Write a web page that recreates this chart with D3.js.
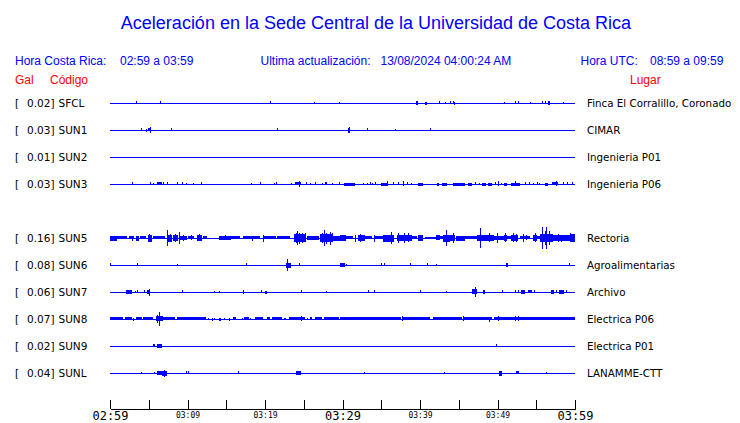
<!DOCTYPE html>
<html><head><meta charset="utf-8">
<script src="https://cdn.jsdelivr.net/npm/d3@7"></script>
<style>
html,body{margin:0;padding:0;background:#fff;}
svg{display:block;}
</style></head>
<body><svg id="chart" width="740" height="423"></svg>
<script>
// ---------------- DATA ----------------
const title = "Aceleración en la Sede Central de la Universidad de Costa Rica";
const localTime = "02:59 a 03:59";
const utcTime = "08:59 a 09:59";
const lastUpdate = "13/08/2024 04:00:24 AM";
const startTime = new Date(2024, 7, 13, 2, 59);
const durationMin = 60;
const tickMinutes = [0,5,10,15,20,25,30,35,40,45,50,55,60];
const labelMinutes = [0,10,20,30,40,50,60];
const majorLabelMinutes = [0,30,60];

const codes  = ["SFCL","SUN1","SUN2","SUN3","SUN4","SUN5","SUN6","SUN7","SUN8","SUN9","SUNL"];
const peaks  = [0.02, 0.03, 0.01, 0.03, null, 0.16, 0.08, 0.06, 0.07, 0.02, 0.04];
const places = ["Finca El Corralillo, Coronado","CIMAR","Ingenieria P01","Ingenieria P06",null,
                "Rectoria","Agroalimentarias","Archivo","Electrica P06","Electrica P01","LANAMME-CTT"];

// events: [startMinute, endMinute, relative amplitude]
const sfclEvents = [[3.4,3.4,12],[6.5,6.5,12],[20.7,20.7,12],[26.3,26.3,8],[29.6,29.6,8],[39.5,39.8,14],
  [40.6,40.6,10],[40.8,40.8,10],[42.4,42.4,12],[43.2,43.3,8],[43.9,43.9,12],[44.2,44.2,12],[44.4,44.4,10],
  [50.8,50.8,8],[52.3,52.3,12],[52.6,52.6,12],[54.2,54.2,8],[55.7,55.7,12],[56.1,56.1,12],[56.5,56.8,14],[58.4,58.4,8]];
const sun1Events = [[4.0,4.0,12],[4.7,4.7,10],[4.86,5.29,12],[5.16,5.16,22],[7.9,7.9,12],[21.6,21.6,12],
  [30.75,31.05,18],[30.9,30.9,22],[33.2,33.2,12],[36.8,36.8,8],[41.3,41.3,12]];
const sun2Events = [];
const sun3Events = [[2.8,2.8,12],[5.1,5.1,12],[5.6,5.6,8],[6.1,6.7,12],[6.9,6.9,12],[7.35,7.5,12],[8.6,8.6,12],
  [9.25,9.25,12],[9.85,9.85,8],[10.75,10.75,8],[11.8,11.8,12],[18.2,18.2,8],[19.4,19.4,12],[21.2,21.2,8],
  [21.4,21.4,12],[23.4,23.4,8],[23.9,24.7,13],[24.4,24.4,22],[25.3,25.3,12],[25.8,25.8,8],[26.5,26.5,12],
  [27.3,27.3,8],[27.8,28.0,12],[28.7,28.7,8],[29.5,29.5,12],[30.15,31.6,11],[32.6,32.6,8],[33.2,33.2,8],
  [33.6,33.6,12],[33.8,33.8,8],[34.2,34.2,12],[35.0,35.9,11],[35.8,35.8,20],[36.5,36.5,12],[37.1,37.1,12],
  [37.8,37.8,20],[38.3,38.3,12],[38.9,38.9,8],[39.7,40.3,11],[42.2,42.5,11],[42.9,43.6,11],[44.3,45.8,11],
  [46.2,46.7,11],[47.1,47.1,12],[47.6,47.6,8],[48.0,48.5,11],[48.8,49.3,11],[49.7,49.7,12],[50.0,50.0,20],
  [50.5,50.5,8],[50.9,51.3,11],[51.8,52.9,11],[52.2,52.2,20],[53.5,53.5,12],[54.0,54.0,12],[54.6,54.6,8],
  [55.1,55.1,12],[55.4,55.4,8],[56.1,56.5,11],[57.0,57.8,13],[57.5,57.5,20],[58.4,58.4,12],[59.0,59.0,12],[59.6,59.6,12]];
const sun4Events = null;
const sun5Events = [[0,0.86,18],[0.86,2.15,13],[2.4,3.0,13],[2.8,2.8,18],[3.4,3.8,18],[3.9,4.7,13],[4.9,5.4,26],
  [5.0,5.0,32],[5.6,7.1,13],[7.3,7.3,60],[7.5,8.0,26],[7.7,7.7,32],[8.1,8.8,22],[8.4,8.4,30],[8.9,8.9,45],
  [9.0,9.9,15],[9.4,9.4,22],[10.0,10.75,13],[10.5,10.5,20],[11.2,11.8,22],[11.5,11.5,28],[12.0,12.5,13],
  [14.0,15.5,15],[14.9,14.9,20],[15.5,16.8,13],[17.2,19.4,13],[18.3,18.3,18],[19.7,19.7,25],[19.8,21.5,13],
  [21.5,23.2,13],[23.8,25.4,30],[24.1,24.1,55],[23.95,23.95,40],[24.4,24.4,42],[24.8,24.8,38],[25.1,25.1,35],
  [25.4,26.9,15],[27.1,28.8,30],[27.6,27.6,60],[27.3,27.3,40],[27.9,27.9,42],[28.4,28.4,50],[28.7,28.7,36],
  [28.8,29.7,18],[29.7,30.5,22],[30.5,31.4,13],[31.6,31.6,25],[32.0,32.9,22],[32.2,32.2,30],[32.9,33.8,13],
  [34.0,34.0,25],[34.0,35.2,13],[35.2,36.6,26],[36.2,36.2,45],[35.6,35.6,25],[37.0,39.0,24],[37.2,37.2,40],
  [37.9,37.9,40],[38.5,38.5,35],[39.0,39.6,13],[39.7,40.4,22],[40.6,42.1,8],[42.1,42.6,20],[42.6,43.0,13],
  [43.0,43.9,26],[43.3,43.3,60],[43.9,44.5,24],[44.3,44.3,40],[44.7,45.8,18],[45.8,47.3,13],[47.3,48.4,24],
  [47.7,47.7,75],[48.4,49.5,24],[48.9,48.9,35],[49.9,49.9,40],[49.5,50.8,15],[50.8,51.2,22],[51.0,51.0,35],
  [51.2,51.8,13],[51.8,52.7,22],[52.0,52.0,35],[52.4,52.4,30],[52.9,54.2,13],[53.3,53.3,30],[53.7,53.7,20],
  [54.6,55.1,22],[54.9,54.9,35],[55.1,55.5,13],[55.5,57.2,32],[55.8,55.8,85],[56.3,56.3,85],[56.1,56.1,55],
  [56.7,56.7,55],[57.2,59.4,22],[57.8,57.8,30],[58.2,58.2,25],[59.4,59.4,35],[59.4,60,30]];
const sun6Events = [[0.05,0.05,12],[3.5,3.6,12],[8.6,8.6,6],[17.6,17.6,12],[22.7,23.3,18],[22.9,22.9,45],
  [24.4,24.4,12],[29.7,30.3,14],[30.5,30.5,8],[35.0,35.0,12],[35.3,35.3,12],[38.75,38.75,12],[40.9,40.9,12],
  [42.0,42.0,8],[51.1,51.3,15],[59.2,59.2,12]];
const sun7Events = [[2.1,2.9,15],[3.2,3.2,8],[3.5,3.5,12],[4.4,4.4,12],[4.8,5.2,15],[5.0,5.0,25],[9.25,9.25,12],
  [13.4,13.4,8],[14.1,14.1,8],[17.2,17.2,15],[19.5,19.5,12],[20.0,20.3,10],[24.6,24.6,12],[27.9,27.9,8],
  [33.3,33.3,12],[34.1,34.1,12],[40.0,40.0,12],[43.3,43.3,8],[46.7,47.3,20],[47.05,47.05,40],[48.1,48.4,15],
  [50.6,50.6,12],[52.2,52.2,12],[52.7,52.7,12],[53.0,53.5,15],[53.9,54.4,12],[54.7,54.7,12],[56.9,57.25,15],
  [57.6,57.6,12],[57.9,58.6,15],[58.9,58.9,12]];
const sun8Events = [[0,1.7,13],[1.9,2.8,12],[3.0,3.1,10],[3.3,4.1,12],[4.3,5.6,12],[5.9,6.8,20],[6.3,6.3,55],
  [6.1,6.1,30],[6.8,8.4,13],[8.6,12.3,12],[12.7,12.7,8],[13.1,13.1,10],[13.4,13.4,8],[14.0,14.2,10],[14.7,14.7,8],
  [15.4,15.4,10],[15.9,16.3,12],[17.0,17.0,8],[17.3,17.9,12],[18.1,18.1,8],[18.7,19.7,12],[20.2,20.6,12],
  [20.9,22.2,12],[22.4,22.4,8],[22.6,22.6,8],[23.1,25.2,12],[24.6,24.6,20],[25.4,25.4,8],[25.8,26.1,12],
  [26.4,27.3,12],[27.6,29.5,12],[29.7,37.6,12],[37.7,37.7,20],[37.8,41.3,12],[41.7,45.4,12],[45.6,45.6,20],
  [45.6,49.3,12],[48.9,48.9,18],[49.5,50.5,13],[50.0,50.0,20],[50.5,59.6,12],[52.2,52.2,20],[52.7,52.7,20],[59.6,60,12]];
const sun9Events = [[5.6,5.8,12],[6.0,6.6,15],[49.8,49.8,12]];
const sunlEvents = [[4.0,4.0,5],[5.7,5.7,8],[6.1,6.7,15],[6.75,7.4,18],[7.0,7.0,25],[9.85,9.85,12],[10.1,10.1,12],
  [16.5,16.5,12],[24.0,24.65,15],[32.8,32.8,5],[43.1,43.1,5],[50.2,50.6,18],[52.4,52.8,12],[56.2,56.2,5]];

const allEvents = [sfclEvents, sun1Events, sun2Events, sun3Events, sun4Events, sun5Events,
                   sun6Events, sun7Events, sun8Events, sun9Events, sunlEvents];

// ---------------- DRAW ----------------
const svg = d3.select("#chart");
const BLUE = "#0000ff", RED = "#ff0000";
const sans = "'Liberation Sans', Arial, sans-serif";
const dvs = "'DejaVu Sans', sans-serif";
const mono = "'DejaVu Sans Mono', monospace";

const minute = m => new Date(startTime.getTime() + m * 60000);
const x = d3.scaleTime().domain([startTime, minute(durationMin)]).range([110, 575]);
const y = d3.scalePoint().domain(codes).range([103, 373]);
const amp = d3.scaleLinear().domain([0, 100]).range([0, 13]);

// header
svg.append("text").attr("x", 376).attr("y", 29).attr("text-anchor", "middle")
  .attr("font-family", sans).attr("font-size", 18).attr("fill", BLUE).text(title);

const hdr = (xx, yy, txt, col, anchor) => svg.append("text").attr("x", xx).attr("y", yy)
  .attr("font-family", sans).attr("font-size", 12).attr("fill", col)
  .attr("text-anchor", anchor || "start").text(txt);
hdr(15, 65, "Hora Costa Rica:", BLUE);
hdr(120, 65, localTime, BLUE);
hdr(260.5, 65, "Ultima actualización:", BLUE);
hdr(380.5, 65, lastUpdate, BLUE);
hdr(580.5, 65, "Hora UTC:", BLUE);
hdr(650, 65, utcTime, BLUE);
hdr(15, 84, "Gal", RED);
hdr(50, 84, "Código", RED);
hdr(630, 84, "Lugar", RED);

// rows
codes.forEach((code, i) => {
  const ev = allEvents[i];
  if (ev === null) return;
  const cy = y(code);
  const g = svg.append("g").attr("shape-rendering", "crispEdges");
  g.append("rect").attr("x", x(minute(0))).attr("y", Math.round(cy) - 0.5)
    .attr("width", x(minute(durationMin)) - x(minute(0))).attr("height", 1).attr("fill", BLUE);
  g.selectAll("rect.ev").data(ev).enter().append("rect").attr("class", "ev")
    .attr("x", d => Math.round(x(minute(d[0]))))
    .attr("width", d => Math.max(1, Math.round(x(minute(d[1])) - x(minute(d[0])))))
    .attr("y", d => Math.round(cy - amp(d[2])))
    .attr("height", d => Math.max(1, Math.round(2 * amp(d[2]))))
    .attr("fill", BLUE);

  const ty = cy + 4;
  svg.append("text").attr("x", 15).attr("y", ty).attr("font-family", dvs).attr("font-size", 10.5)
    .attr("fill", "#000").text("[");
  svg.append("text").attr("x", 27).attr("y", ty).attr("font-family", dvs).attr("font-size", 10.5)
    .attr("fill", "#000").text(d3.format(".2f")(peaks[i]) + "]");
  svg.append("text").attr("x", 58.5).attr("y", ty).attr("font-family", dvs).attr("font-size", 10.5)
    .attr("fill", "#000").text(code);
  svg.append("text").attr("x", 587).attr("y", ty).attr("font-family", dvs).attr("font-size", 10.3)
    .attr("fill", "#000").text(places[i]);
});

// axis
const fmt = d3.timeFormat("%H:%M");
const isMajor = d => majorLabelMinutes.includes(Math.round((d - startTime) / 60000));
const axis = d3.axisBottom(x)
  .tickValues(tickMinutes.map(minute))
  .tickSize(-9).tickSizeOuter(0).tickPadding(4)
  .tickFormat(d => {
    const m = Math.round((d - startTime) / 60000);
    return labelMinutes.includes(m) ? fmt(d) : "";
  });
const ax = svg.append("g").attr("transform", "translate(0,409)").call(axis);
ax.select(".domain").attr("stroke", "#000").attr("shape-rendering", "crispEdges");
ax.selectAll(".tick line").attr("stroke", "#000").attr("shape-rendering", "crispEdges");
ax.selectAll(".tick text").attr("fill", "#000").attr("font-family", mono)
  .attr("font-size", d => isMajor(d) ? 12 : 8)
  .attr("dy", null)
  .attr("y", d => isMajor(d) ? 11 : 9);
</script>
</body></html>
